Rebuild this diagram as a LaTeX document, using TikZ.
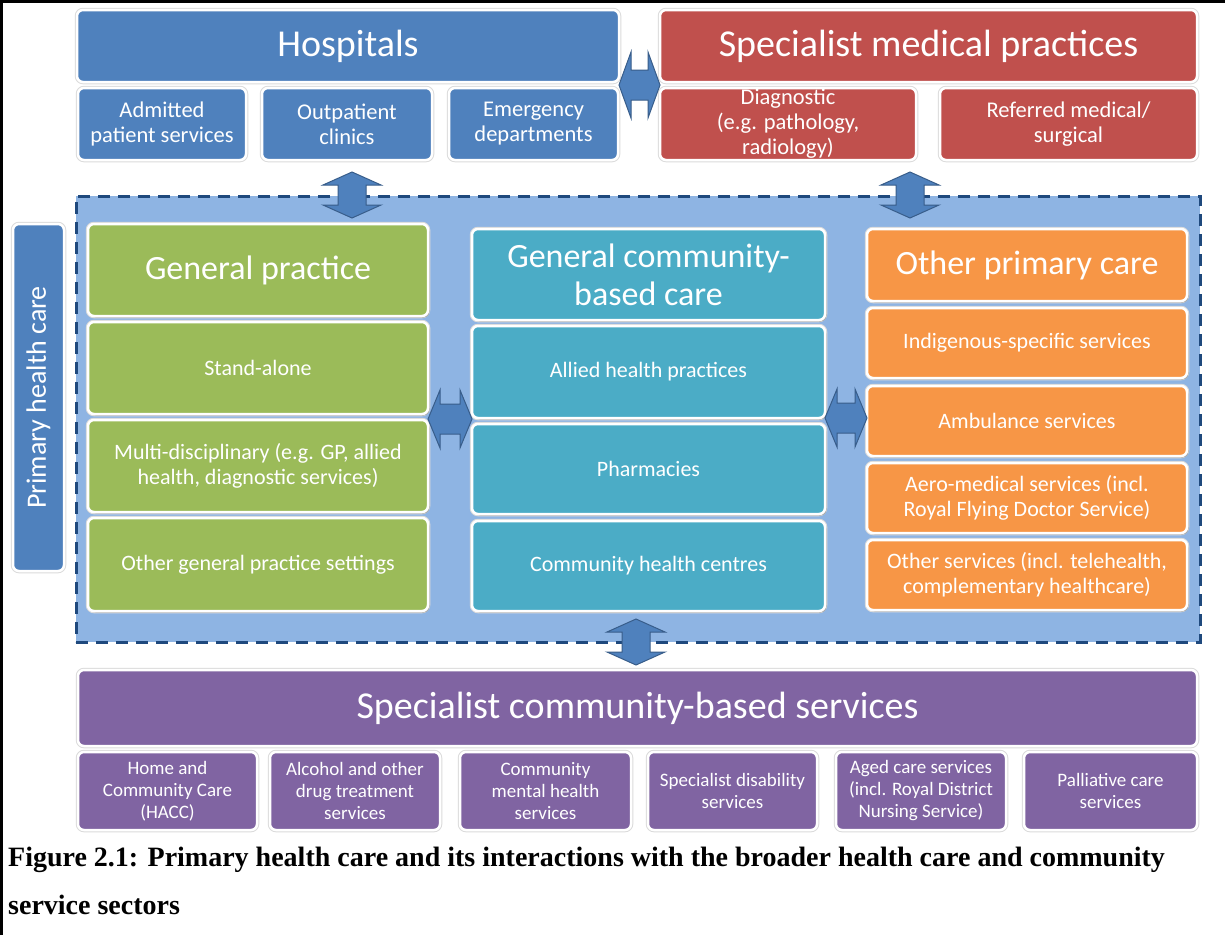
\documentclass[tikz,border=0pt]{standalone}
\usepackage{fontspec}
\setmainfont{Carlito}
\newfontfamily\capfont{Liberation Serif}
\usetikzlibrary{shadows}

\definecolor{cblue}{HTML}{4F81BD}
\definecolor{cred}{HTML}{C0504D}
\definecolor{cgreen}{HTML}{9BBB59}
\definecolor{cteal}{HTML}{4BACC6}
\definecolor{corange}{HTML}{F79646}
\definecolor{cpurple}{HTML}{8064A2}
\definecolor{regfill}{HTML}{8EB4E3}
\definecolor{regline}{HTML}{1F497D}
\definecolor{arrline}{HTML}{385D8A}

\newcommand\fbig{\fontsize{38}{40}\selectfont}
\newcommand\fcol{\fontsize{34}{38}\selectfont}
\newcommand\fitem{\fontsize{22}{25}\selectfont}
\newcommand\fsub{\fontsize{22.5}{25}\selectfont}
\newcommand\fsmall{\fontsize{19}{22}\selectfont}
\newcommand\fside{\fontsize{28}{30}\selectfont}

% vertical two-headed block arrow: centre x, top y, bottom y
\newcommand\blockV[3]{%
  \draw[blockarrow] (#1,#2) -- (#1+29,#2+13) -- (#1+14,#2+13) -- (#1+14,#3-13)
    -- (#1+29,#3-13) -- (#1,#3) -- (#1-29,#3-13) -- (#1-14,#3-13)
    -- (#1-14,#2+13) -- (#1-29,#2+13) -- cycle;}
% horizontal two-headed block arrow: left x, right x, centre y, half head width
\newcommand\blockH[4]{%
  \draw[blockarrow] (#1,#3) -- (#1+12,#3-#4) -- (#1+12,#3-15) -- (#2-12,#3-15)
    -- (#2-12,#3-#4) -- (#2,#3) -- (#2-12,#3+#4) -- (#2-12,#3+15)
    -- (#1+12,#3+15) -- (#1+12,#3+#4) -- cycle;}

\tikzset{
  card/.style={rounded corners=6pt, fill=#1, draw=white, line width=2.5pt,
    text=white, align=center, inner sep=0pt,
    preaction={draw=black!14, line width=4.5pt}},
  incard/.style={card=#1,
    drop shadow={shadow xshift=1.5pt, shadow yshift=-1.5pt, opacity=0.25, fill=black}},
  blockarrow/.style={fill=cblue, draw=arrline, line width=1pt, line join=miter},
  region/.style={fill=regfill, draw=regline, line width=3pt,
    dash pattern=on 12pt off 8pt},
}

\begin{document}
\begin{tikzpicture}[x=1pt,y=-1pt]
\useasboundingbox (0,0) rectangle (1225,935);
\fill[white] (0,0) rectangle (1225,935);

% page frame (left and top rules)
\draw[line width=3pt] (1.5,935) -- (1.5,1.5) -- (1225,1.5);

% primary health care region
\node[region, minimum width=1124pt, minimum height=446pt, inner sep=0pt] (phc) at (638,419) {};

% hospitals
\node[card=cblue, minimum width=542pt, minimum height=72pt, font=\fbig] (hosp) at (348,46) {Hospitals};
\node[card=cblue, minimum width=168pt, minimum height=72pt, font=\fsub] (adm) at (162,124) {Admitted\\patient services};
\node[card=cblue, minimum width=170pt, minimum height=72pt, font=\fsub] (outp) at (347,124) {Outpatient\\clinics};
\node[card=cblue, minimum width=169pt, minimum height=72pt, font=\fsub] (emerg) at (533.5,124) {Emergency\\departments};

% specialist medical practices
\node[card=cred, minimum width=537pt, minimum height=72pt, font=\fbig] (smp) at (928.5,46) {Specialist medical practices};
\node[card=cred, minimum width=256pt, minimum height=72pt, font=\fsub] (diag) at (788,124) {Diagnostic\\(e.g. pathology,\\radiology)};
\node[card=cred, minimum width=257pt, minimum height=72pt, font=\fsub] (refer) at (1068.5,124) {Referred medical/\\surgical};

% side label
\node[card=cblue, rotate=90, minimum width=347pt, minimum height=51pt, font=\fside] (side) at (38.5,397.5) {Primary health care};

% general practice column
\node[incard=cgreen, minimum width=340pt, minimum height=92pt, font=\fcol] (gph) at (258,270) {General practice};
\node[incard=cgreen, minimum width=340pt, minimum height=92pt, font=\fitem] (gp1) at (258,368) {Stand-alone};
\node[incard=cgreen, minimum width=340pt, minimum height=92pt, font=\fitem] (gp2) at (258,466) {Multi-disciplinary (e.g. GP, allied\\health, diagnostic services)};
\node[incard=cgreen, minimum width=340pt, minimum height=93pt, font=\fitem] (gp3) at (258,564.5) {Other general practice settings};

% general community-based care column
\node[incard=cteal, minimum width=353pt, minimum height=91pt, font=\fcol] (gch) at (648.5,274.5) {General community-\\based care};
\node[incard=cteal, minimum width=353pt, minimum height=92pt, font=\fitem] (gc1) at (648.5,372) {Allied health practices};
\node[incard=cteal, minimum width=353pt, minimum height=90pt, font=\fitem] (gc2) at (648.5,469) {Pharmacies};
\node[incard=cteal, minimum width=353pt, minimum height=90pt, font=\fitem] (gc3) at (648.5,566) {Community health centres};

% other primary care column
\node[incard=corange, minimum width=320pt, minimum height=72pt, font=\fcol] (oph) at (1027,265) {Other primary care};
\node[incard=corange, minimum width=320pt, minimum height=70pt, font=\fitem] (op1) at (1027,343) {Indigenous-specific services};
\node[incard=corange, minimum width=320pt, minimum height=70pt, font=\fitem] (op2) at (1027,421) {Ambulance services};
\node[incard=corange, minimum width=320pt, minimum height=70pt, font=\fitem] (op3) at (1027,498) {Aero-medical services (incl.\\Royal Flying Doctor Service)};
\node[incard=corange, minimum width=320pt, minimum height=70pt, font=\fitem] (op4) at (1027,575) {Other services (incl. telehealth,\\complementary healthcare)};

% specialist community-based services
\node[card=cpurple, minimum width=1119pt, minimum height=76pt, font=\fbig] (scb) at (637.5,708) {Specialist community-based services};
\node[card=cpurple, minimum width=179pt, minimum height=78pt, font=\fsmall] (s1) at (167.5,791) {Home and\\Community Care\\(HACC)};
\node[card=cpurple, minimum width=170pt, minimum height=78pt, font=\fsmall] (s2) at (355,791) {Alcohol and other\\drug treatment\\services};
\node[card=cpurple, minimum width=171pt, minimum height=78pt, font=\fsmall] (s3) at (545.5,791) {Community\\mental health\\services};
\node[card=cpurple, minimum width=169pt, minimum height=78pt, font=\fsmall] (s4) at (732.5,791) {Specialist disability\\services};
\node[card=cpurple, minimum width=170pt, minimum height=78pt, font=\fsmall] (s5) at (921,791) {Aged care services\\(incl. Royal District\\Nursing Service)};
\node[card=cpurple, minimum width=173pt, minimum height=78pt, font=\fsmall] (s6) at (1110.5,791) {Palliative care\\services};

% two-way links
\blockH{619}{660}{85}{33}
\blockV{352}{172}{218}
\blockV{910}{172}{218}
\blockH{428}{472}{419}{29}
\blockH{825}{867}{418}{29}
\blockV{636}{619}{665}

% caption
\node[anchor=north west, align=left, inner sep=0pt,
      font=\capfont\bfseries\fontsize{28}{48}\selectfont] (cap) at (8,847)
  {Figure 2.1: Primary health care and its interactions with the broader health care and community\\service sectors};
\end{tikzpicture}
\end{document}
